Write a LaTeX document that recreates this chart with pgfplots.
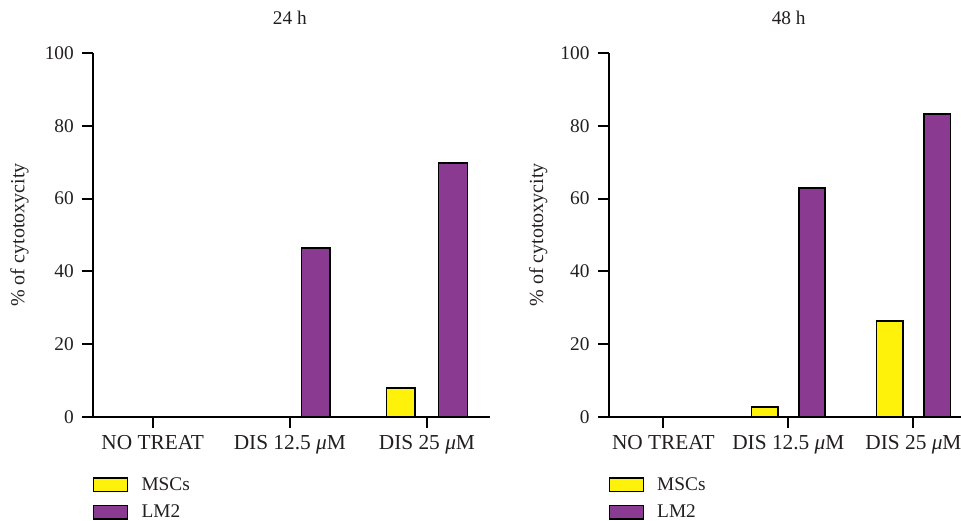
\documentclass[border=0pt]{standalone}
\usepackage{pgfplots}
\pgfplotsset{compat=1.18}
\usepackage{fontspec}
\setmainfont{Liberation Serif}
\definecolor{msc}{RGB}{255,242,10}
\definecolor{lmtwo}{RGB}{139,58,146}
\definecolor{txt}{RGB}{35,31,32}
\pgfplotsset{
  panel/.style={
    scale only axis,
    height=273pt,
    ymin=0, ymax=100,
    ytick={0,20,40,60,80,100},
    xtick={0,1,2},
    xticklabels={NO TREAT, DIS 12.5 \textit{μ}M, DIS 25 \textit{μ}M},
    axis x line=bottom, axis y line=left,
    axis line style={-, line width=1.5pt, black},
    tick style={line width=1.5pt, black},
    tick align=outside,
    major tick length=8pt,
    /pgf/number format/assume math mode=true,
    font=\fontsize{14.5pt}{17pt}\selectfont,
    every tick label/.append style={text=txt},
    xticklabel style={yshift=-2.5pt, font=\fontsize{16pt}{18pt}\selectfont},
    yticklabel style={xshift=-2.9pt},
    label style={text=txt},
    ylabel style={font=\fontsize{15pt}{17pt}\selectfont},
    title style={text=txt, anchor=base},
    ylabel={\% of cytotoxycity},
    ybar, bar width=0.21,
    legend cell align=left,
    legend style={draw=none, fill=none, anchor=north west, at={(0,-0.1657)},
      inner sep=0pt, outer sep=0pt, row sep=9.5pt, column sep=0pt,
      nodes={inner sep=0pt, text=txt}},
    legend image code/.code={\draw[#1, line width=1.1pt] (0pt,-5pt) rectangle (25.5pt,5pt); \path (35.25pt,0pt);},
  }
}
\begin{document}
\begin{tikzpicture}
\useasboundingbox (0,0) rectangle (720.75pt,390.75pt);
\begin{axis}[panel, at={(69.75pt,78pt)}, anchor=south west,
  width=297.75pt, xmin=-0.435, xmax=2.46,
  title={24 h}, title style={at={(0.496,1)}, yshift=15pt},
  ylabel style={at={(axis description cs:-0.185,0.5)}, anchor=center}]
\addplot[draw=black, line width=1.2pt, fill=msc, bar shift=-0.19] coordinates {(2,8.0)};
\addlegendentry{MSCs}
\addplot[draw=black, line width=1.2pt, fill=lmtwo, bar shift=0.19] coordinates {(1,46.5) (2,69.8)};
\addlegendentry{LM2}
\end{axis}
\begin{axis}[panel, at={(456.5pt,78pt)}, anchor=south west,
  width=264.2pt, xmin=-0.437, xmax=2.38,
  title={48 h}, title style={at={(0.511,1)}, yshift=15pt},
  ylabel style={at={(axis description cs:-0.2,0.5)}, anchor=center}]
\addplot[draw=black, line width=1.2pt, fill=msc, bar shift=-0.19] coordinates {(1,2.7) (2,26.4)};
\addlegendentry{MSCs}
\addplot[draw=black, line width=1.2pt, fill=lmtwo, bar shift=0.19] coordinates {(1,62.9) (2,83.3)};
\addlegendentry{LM2}
\end{axis}
\end{tikzpicture}
\end{document}
